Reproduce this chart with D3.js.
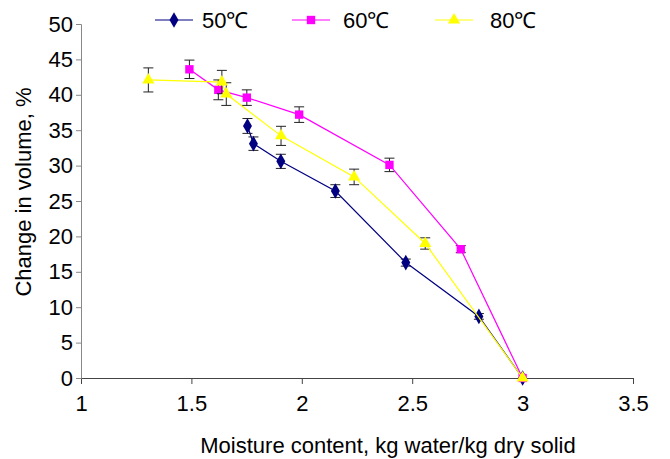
<!DOCTYPE html>
<meta charset="utf-8">
<style>
  body { margin: 0; background: #fff; }
  text { font-family: "Liberation Sans", Arial, sans-serif; }
</style>
<body>
<div id="canvas"></div>
<script src="https://d3js.org/d3.v7.min.js"></script>
<script>

// data
var xTicks = [1, 1.5, 2, 2.5, 3, 3.5];
var yTicks = [0, 5, 10, 15, 20, 25, 30, 35, 40, 45, 50];

var seriesNames = ["50\u2103", "60\u2103", "80\u2103"];

var moist50 = [1.754, 1.781, 1.905, 2.152, 2.471, 2.802, 3.0];
var vol50   = [35.6, 33.1, 30.6, 26.4, 16.3, 8.7, 0];
var err50   = [1.05, 0.95, 1.0, 0.9, 0.5, 0.4, 0];

var moist60 = [1.491, 1.622, 1.751, 1.988, 2.397, 2.72, 3.0];
var vol60   = [43.6, 40.7, 39.6, 37.2, 30.1, 18.2, 0];
var err60   = [1.3, 1.4, 1.1, 1.1, 0.95, 0.5, 0];

var moist80 = [1.305, 1.638, 1.658, 1.906, 2.237, 2.559, 3.0];
var vol80   = [42.1, 41.8, 40.1, 34.2, 28.4, 19.0, 0];
var err80   = [1.7, 1.65, 1.6, 1.35, 1.1, 0.8, 0];

var colors = ["#000080", "#FF00FF", "#FFFF00"];
var shapes = [d3.symbolDiamond, d3.symbolSquare, d3.symbolTriangle];

var W = 670, H = 459;
var margin = {top: 24, right: 37, bottom: 81, left: 81};
var fs = 22;

var x = d3.scaleLinear().domain([1, 3.5]).range([margin.left, W - margin.right]);
var y = d3.scaleLinear().domain([0, 50]).range([H - margin.bottom, margin.top]);

var svg = d3.select("#canvas").append("svg")
    .attr("width", W).attr("height", H);

// axes
var xAxis = svg.append("g")
    .attr("transform", "translate(0," + y(0) + ")")
    .call(d3.axisBottom(x).tickValues(xTicks).tickSize(6).tickPadding(11).tickFormat(d3.format("")));
xAxis.select(".domain").attr("stroke", "#444");
xAxis.selectAll(".tick line").attr("stroke", "#444");
xAxis.selectAll("text").attr("font-size", fs).attr("fill", "#000");

var yAxis = svg.append("g")
    .attr("transform", "translate(" + x(1) + ",0)")
    .call(d3.axisLeft(y).tickValues(yTicks).tickSize(5).tickPadding(3).tickSizeOuter(5));
yAxis.select(".domain").attr("stroke", "#888");
yAxis.selectAll(".tick line").attr("stroke", "#888");
yAxis.selectAll("text").attr("font-size", fs).attr("fill", "#000");

// axis titles
svg.append("text")
    .attr("x", 388).attr("y", 453)
    .attr("text-anchor", "middle")
    .attr("font-size", fs)
    .text("Moisture content, kg water/kg dry solid");

svg.append("text")
    .attr("transform", "translate(31," + 192 + ") rotate(-90)")
    .attr("text-anchor", "middle")
    .attr("font-size", fs)
    .text("Change in volume, %");

var series = [
  {xs: moist50, ys: vol50, es: err50},
  {xs: moist60, ys: vol60, es: err60},
  {xs: moist80, ys: vol80, es: err80}
];

var line = d3.line()
    .x(function(d){ return x(d[0]); })
    .y(function(d){ return y(d[1]); });

series.forEach(function(s, k){
  var pts = s.xs.map(function(v, i){ return [v, s.ys[i], s.es[i]]; });

  var g = svg.append("g");

  // error bars
  var eb = g.selectAll(".eb").data(pts.filter(function(d){ return d[2] > 0; }))
    .enter().append("g").attr("stroke", "#222").attr("stroke-width", 1);
  eb.append("line")
    .attr("x1", function(d){ return x(d[0]); }).attr("x2", function(d){ return x(d[0]); })
    .attr("y1", function(d){ return y(d[1] + d[2]); }).attr("y2", function(d){ return y(d[1] - d[2]); });
  eb.append("line")
    .attr("x1", function(d){ return x(d[0]) - 5; }).attr("x2", function(d){ return x(d[0]) + 5; })
    .attr("y1", function(d){ return y(d[1] + d[2]); }).attr("y2", function(d){ return y(d[1] + d[2]); });
  eb.append("line")
    .attr("x1", function(d){ return x(d[0]) - 5; }).attr("x2", function(d){ return x(d[0]) + 5; })
    .attr("y1", function(d){ return y(d[1] - d[2]); }).attr("y2", function(d){ return y(d[1] - d[2]); });

  g.append("path")
    .datum(pts)
    .attr("d", line)
    .attr("fill", "none")
    .attr("stroke", colors[k])
    .attr("stroke-width", 1.2);

  g.selectAll(".m").data(pts).enter().append("path")
    .attr("transform", function(d){ return "translate(" + x(d[0]) + "," + y(d[1]) + ")"; })
    .attr("d", d3.symbol().type(shapes[k]).size(k == 2 ? 64 : 70))
    .attr("fill", colors[k]);
});

// legend
var legX = [155, 292, 435];
var legTextX = [202, 343, 490];
seriesNames.forEach(function(name, k){
  var lg = svg.append("g");
  lg.append("line")
    .attr("x1", legX[k]).attr("x2", legX[k] + 38)
    .attr("y1", 20).attr("y2", 20)
    .attr("stroke", colors[k]).attr("stroke-width", 1.2);
  lg.append("path")
    .attr("transform", "translate(" + (legX[k] + 19) + ",20)")
    .attr("d", d3.symbol().type(shapes[k]).size(k == 2 ? 64 : 70))
    .attr("fill", colors[k]);
  lg.append("text")
    .attr("x", legTextX[k]).attr("y", 28)
    .attr("font-size", fs)
    .text(name);
});

</script>
</body>
